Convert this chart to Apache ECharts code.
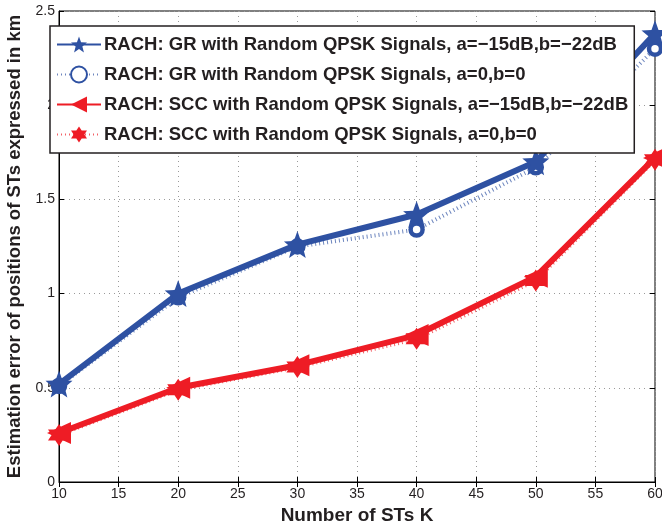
<!DOCTYPE html>
<html>
<head>
<meta charset="utf-8">
<script src="https://cdn.jsdelivr.net/npm/echarts@6/dist/echarts.min.js"></script>
<style>
  html, body { margin: 0; padding: 0; background: #fff; }
  #chart { width: 662px; height: 522px; }
</style>
</head>
<body>
<div id="chart"></div>
<script>
// Number of STs K
const stCounts = [10, 20, 30, 40, 50, 60];

// Estimation error (km) for each scheme
const grImpaired   = [0.52, 1.00, 1.26, 1.42, 1.70, 2.38];
const grIdeal      = [0.51, 0.98, 1.25, 1.34, 1.67, 2.30];
const sccImpaired  = [0.26, 0.50, 0.62, 0.78, 1.09, 1.72];
const sccIdeal     = [0.25, 0.49, 0.61, 0.76, 1.07, 1.71];

const seriesNames = [
  'RACH: GR with Random QPSK Signals, a=\u221215dB,b=\u221222dB',
  'RACH: GR with Random QPSK Signals, a=0,b=0',
  'RACH: SCC with Random QPSK Signals, a=\u221215dB,b=\u221222dB',
  'RACH: SCC with Random QPSK Signals, a=0,b=0'
];

const BLUE = '#2E51A2';
const RED = '#EE1C25';

// Star-shaped marker outline with n points
function starPath(n, inner) {
  const pts = [];
  for (let i = 0; i < 2 * n; i++) {
    const r = i % 2 === 0 ? 1 : inner;
    const a = -Math.PI / 2 + i * Math.PI / n;
    pts.push((50 + 50 * r * Math.cos(a)).toFixed(2) + ' ' + (50 + 50 * r * Math.sin(a)).toFixed(2));
  }
  return 'path://M' + pts.join(' L') + ' Z';
}
const pentagram = starPath(5, 0.42);
const hexagram = starPath(6, 0.58);

function pairs(ys) { return stCounts.map((x, i) => [x, ys[i]]); }

const chart = echarts.init(document.getElementById('chart'));
const ink = '#231F20';
const FONT = 'Liberation Sans, Arial, sans-serif';
chart.setOption({
  animation: false,
  backgroundColor: '#fff',
  textStyle: { fontFamily: FONT },
  grid: {
    left: 59, top: 11, right: 7, bottom: 40,
    containLabel: false, outerBoundsMode: 'none',
    show: true, borderColor: '#000', borderWidth: 1
  },
  legend: {
    orient: 'vertical',
    left: 50, top: 26,
    padding: [9, 6, 9, 6],
    itemGap: 11,
    itemWidth: 44, itemHeight: 20,
    backgroundColor: '#fff',
    borderColor: ink, borderWidth: 1.5,
    textStyle: { fontSize: 18.5, fontWeight: 'bold', color: ink, fontFamily: FONT, padding: [0, 0, 0, -2] },
    data: seriesNames
  },
  xAxis: [{
    type: 'value', min: 10, max: 60, interval: 5,
    name: 'Number of STs K', nameLocation: 'middle', nameGap: 18,
    nameTextStyle: { fontSize: 19, fontWeight: 'bold', color: ink, fontFamily: FONT },
    axisLine: { lineStyle: { color: '#000', width: 1 } },
    axisTick: { inside: true, length: 5, lineStyle: { color: '#000' } },
    axisLabel: { fontSize: 14, color: ink, margin: 5 },
    splitLine: { lineStyle: { color: '#9a9a9a', type: [1, 4], width: 1 } }
  }, {
    type: 'value', min: 10, max: 60, interval: 5, position: 'top',
    axisLine: { show: false },
    axisTick: { inside: true, length: 5, lineStyle: { color: '#000' } },
    axisLabel: { show: false }, splitLine: { show: false }
  }],
  yAxis: [{
    type: 'value', min: 0, max: 2.5, interval: 0.5,
    name: 'Estimation error of positions of STs expressed in km',
    nameLocation: 'middle', nameGap: 29,
    nameTextStyle: { fontSize: 18.5, fontWeight: 'bold', color: ink, fontFamily: FONT },
    axisLine: { show: true, lineStyle: { color: '#000', width: 1 } },
    axisTick: { inside: true, length: 5, lineStyle: { color: '#000' } },
    axisLabel: { fontSize: 14, color: ink, margin: 4 },
    splitLine: { lineStyle: { color: '#9a9a9a', type: [1, 4], width: 1 } }
  }, {
    type: 'value', min: 0, max: 2.5, interval: 0.5, position: 'right',
    axisLine: { show: false },
    axisTick: { inside: true, length: 5, lineStyle: { color: '#000' } },
    axisLabel: { show: false }, splitLine: { show: false }
  }],
  series: [
    {
      name: seriesNames[3], type: 'line', data: pairs(sccIdeal), z: 2,
      symbol: hexagram, symbolSize: 22,
      itemStyle: { color: RED },
      lineStyle: { color: RED, width: 4, type: [1, 3], opacity: 0.7 }
    },
    {
      name: seriesNames[2], type: 'line', data: pairs(sccImpaired), z: 3,
      symbol: 'triangle', symbolSize: [22, 24], symbolRotate: 90,
      itemStyle: { color: RED },
      lineStyle: { color: RED, width: 6 }
    },
    {
      name: seriesNames[1], type: 'line', data: pairs(grIdeal), z: 2,
      symbol: 'circle', symbolSize: 12,
      itemStyle: { color: '#fff', borderColor: BLUE, borderWidth: 4.5 },
      lineStyle: { color: BLUE, width: 4, type: [1, 3], opacity: 0.7 }
    },
    {
      name: seriesNames[0], type: 'line', data: pairs(grImpaired), z: 3,
      symbol: pentagram, symbolSize: 27,
      itemStyle: { color: BLUE },
      lineStyle: { color: BLUE, width: 6 }
    }
  ]
});
</script>
</body>
</html>
